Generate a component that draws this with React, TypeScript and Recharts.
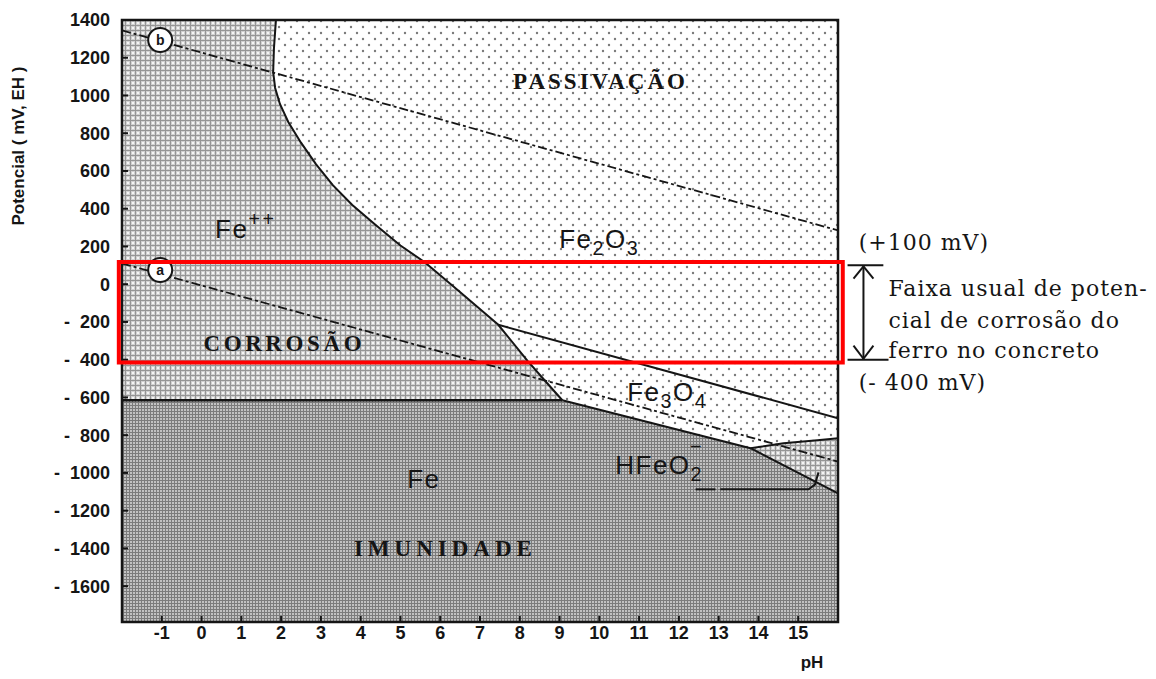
import React from 'react';
import {
  ComposedChart,
  Area,
  Line,
  XAxis,
  YAxis,
  ReferenceArea,
  ReferenceLine,
  ReferenceDot,
} from 'recharts';

// ---------- axes ----------
const phTicks = [-1, 0, 1, 2, 3, 4, 5, 6, 7, 8, 9, 10, 11, 12, 13, 14, 15];
const potentialTicks = [1400, 1200, 1000, 800, 600, 400, 200, 0, -200, -400, -600, -800, -1000, -1200, -1400, -1600];
const PH_MIN = -2;
const PH_MAX = 16;
const MV_MIN = -1790;
const MV_MAX = 1400;

// ---------- boundaries (pH, mV) ----------
// Fe++ / Fe2O3 curve continuing as Fe++ / Fe3O4
const feIonOxideBoundary = [
  { ph: 1.87, mv: 1400 },
  { ph: 1.82, mv: 1250 },
  { ph: 1.8, mv: 1125 },
  { ph: 1.85, mv: 1040 },
  { ph: 1.97, mv: 955 },
  { ph: 2.18, mv: 860 },
  { ph: 2.5, mv: 750 },
  { ph: 2.88, mv: 635 },
  { ph: 3.3, mv: 525 },
  { ph: 3.79, mv: 420 },
  { ph: 4.37, mv: 315 },
  { ph: 5.0, mv: 205 },
  { ph: 5.62, mv: 115 },
  { ph: 6.43, mv: -30 },
  { ph: 7.46, mv: -215 },
  { ph: 8.19, mv: -405 },
  { ph: 8.69, mv: -525 },
  { ph: 9.07, mv: -615 },
];
const feIonFeBoundary = [
  { ph: -2, mv: -615 },
  { ph: 9.07, mv: -615 },
];
const fe2o3Fe3o4Boundary = [
  { ph: 7.46, mv: -215 },
  { ph: 16, mv: -710 },
];
const fe3o4FeBoundary = [
  { ph: 9.07, mv: -615 },
  { ph: 13.8, mv: -869 },
  { ph: 16, mv: -1108 },
];
const hfeo2Boundary = [
  { ph: 13.8, mv: -869 },
  { ph: 14.63, mv: -843 },
  { ph: 15.48, mv: -827 },
  { ph: 16, mv: -816 },
];
const hfeo2Lower = [-869, -959, -1051, -1108];
const lineA = [
  { ph: -2, mv: 110 },
  { ph: 16, mv: -940 },
];
const lineB = [
  { ph: -2, mv: 1345 },
  { ph: 16, mv: 285 },
];
const pointerUnderline = [
  { ph: 12.42, mv: -1087 },
  { ph: 12.92, mv: -1087 },
];
const pointerLine = [
  { ph: 13.04, mv: -1087 },
  { ph: 15.26, mv: -1087 },
  { ph: 15.42, mv: -1062 },
  { ph: 15.51, mv: -997 },
];

// usual corrosion potential range of steel in concrete (red box)
const redBox = { ph1: -2.08, ph2: 16.12, mv1: -415, mv2: 118 };

// bracket on the right (+100 / -400 mV)
const bracketSegments = [
  [{ ph: 16.24, mv: 100 }, { ph: 17.14, mv: 100 }],
  [{ ph: 16.24, mv: -400 }, { ph: 17.27, mv: -400 }],
  [{ ph: 16.64, mv: 95 }, { ph: 16.64, mv: -395 }],
  [{ ph: 16.39, mv: 30 }, { ph: 16.64, mv: 95 }],
  [{ ph: 16.89, mv: 30 }, { ph: 16.64, mv: 95 }],
  [{ ph: 16.39, mv: -325 }, { ph: 16.64, mv: -395 }],
  [{ ph: 16.89, mv: -325 }, { ph: 16.64, mv: -395 }],
];

const circleMarks = [
  { ph: -1.04, mv: 1294, t: 'b' },
  { ph: -1.04, mv: 75, t: 'a' },
];

type Part = { t: string; s?: 'sub' | 'sup' | 'over' };
const regionLabels: { ph: number; mv: number; kind: string; parts: Part[] }[] = [
  { ph: 10.03, mv: 1077, kind: 'word1', parts: [{ t: 'PASSIVAÇÃO' }] },
  { ph: 2.08, mv: -313, kind: 'word2', parts: [{ t: 'CORROSÃO' }] },
  { ph: 6.13, mv: -1400, kind: 'word3', parts: [{ t: 'IMUNIDADE' }] },
  { ph: 0.34, mv: 292, kind: 'formula', parts: [{ t: 'Fe' }, { t: '++', s: 'sup' }] },
  { ph: 8.99, mv: 244, kind: 'formula', parts: [{ t: 'Fe' }, { t: '2', s: 'sub' }, { t: 'O' }, { t: '3', s: 'sub' }] },
  { ph: 10.7, mv: -567, kind: 'formula', parts: [{ t: 'Fe' }, { t: '3', s: 'sub' }, { t: 'O' }, { t: '4', s: 'sub' }] },
  { ph: 10.4, mv: -954, kind: 'formula', parts: [{ t: 'HFeO' }, { t: '2', s: 'sub' }, { t: '\u2212', s: 'over' }] },
  { ph: 5.17, mv: -1028, kind: 'formula', parts: [{ t: 'Fe' }] },
];

const noteLabels = [
  { ph: 16.52, mv: 223, t: '(+100 mV)' },
  { ph: 17.27, mv: -21, t: 'Faixa usual de poten-' },
  { ph: 17.27, mv: -191, t: 'cial de corrosão do' },
  { ph: 17.27, mv: -350, t: 'ferro no concreto' },
  { ph: 16.52, mv: -519, t: '(- 400 mV)' },
];

// ---------- region polygons built from the boundaries ----------
const feIonRegion = [
  { ph: PH_MIN, range: [MV_MIN, MV_MAX] },
  { ph: PH_MAX, range: [MV_MIN, MV_MAX] },
];
const passivationRegion = [...feIonOxideBoundary, ...fe3o4FeBoundary.slice(1)].map((p) => ({
  ph: p.ph,
  range: [p.mv, MV_MAX],
}));
const feRegion = [...feIonFeBoundary, ...fe3o4FeBoundary.slice(1)].map((p) => ({
  ph: p.ph,
  range: [MV_MIN, p.mv],
}));
const hfeo2Region = hfeo2Boundary.map((p, i) => ({ ph: p.ph, range: [hfeo2Lower[i], p.mv] }));

// ---------- styles ----------
const SANS = "'Liberation Sans', Arial, Helvetica, sans-serif";
const SERIF = "'DejaVu Serif', 'Liberation Serif', serif";
const WORD_SERIF = "'Liberation Serif', 'Times New Roman', serif";
const INK = '#151515';

const wordStyle: Record<string, { size: number; spacing: number }> = {
  word1: { size: 23, spacing: 3 },
  word2: { size: 23, spacing: 3.6 },
  word3: { size: 23, spacing: 5 },
};

const OFFS: Record<string, number> = { base: 0, sub: 0.3, sup: -0.46, over: -0.8 };

function RichLabel(props: any) {
  const { cx, cy, def } = props;
  if (cx == null || cy == null) return null;
  if (def.kind !== 'formula') {
    const st = wordStyle[def.kind];
    return (
      <text
        x={cx}
        y={cy + st.size * 0.33}
        textAnchor="middle"
        fontFamily={WORD_SERIF}
        fontWeight={700}
        fontSize={st.size}
        letterSpacing={st.spacing}
        fill={INK}
      >
        {def.parts[0].t}
      </text>
    );
  }
  const fs = 26;
  let cur = 0;
  return (
    <text x={cx} y={cy + fs * 0.36} textAnchor="start" fontFamily={SANS} fontSize={fs} letterSpacing={1.5} fill={INK}>
      {def.parts.map((p: Part, i: number) => {
        const k = p.s ?? 'base';
        const target = OFFS[k] * fs;
        const dy = target - cur;
        cur = target;
        const size = k === 'base' ? fs : fs * 0.76;
        const dx = k === 'over' ? -fs * 0.5 : 0;
        return (
          <tspan key={i} dy={dy} dx={dx} fontSize={size} letterSpacing={k === 'sup' ? 2.5 : 1.5}>
            {p.t}
          </tspan>
        );
      })}
    </text>
  );
}

function NoteLabel(props: any) {
  const { cx, cy, t } = props;
  if (cx == null || cy == null) return null;
  return (
    <text x={cx} y={cy + 22 * 0.36} textAnchor="start" fontFamily={SERIF} fontSize={22} letterSpacing={1} fill={INK}>
      {t}
    </text>
  );
}

function CircleMark(props: any) {
  const { cx, cy, t } = props;
  if (cx == null || cy == null) return null;
  return (
    <g>
      <circle cx={cx} cy={cy} r={12} fill="#ffffff" stroke={INK} strokeWidth={2} />
      <text x={cx} y={cy + 5} textAnchor="middle" fontFamily={SANS} fontWeight={700} fontSize={14} fill={INK}>
        {t}
      </text>
    </g>
  );
}

function YTitle() {
  const cx = 18;
  const cy = 146;
  return (
    <text
      x={cx}
      y={cy}
      transform={`rotate(-90, ${cx}, ${cy})`}
      textAnchor="middle"
      dominantBaseline="central"
      fontFamily={SANS}
      fontWeight={700}
      fontSize={17}
      fill={INK}
    >
      Potencial ( mV, EH )
    </text>
  );
}

function XTitle() {
  return (
    <text x={812} y={668} textAnchor="middle" fontFamily={SANS} fontWeight={700} fontSize={17} fill={INK}>
      pH
    </text>
  );
}

const fmtPotential = (v: number) => (v < 0 ? `-\u00A0\u00A0${Math.abs(v)}` : String(v));

const tickStyle = { fill: INK, fontSize: 18, fontWeight: 700, fontFamily: SANS };

export default function App() {
  return (
    <div style={{ position: 'absolute', left: 0, top: 0, width: 1156, height: 679, background: '#ffffff' }}>
      <ComposedChart width={1156} height={679} margin={{ top: 20, right: 318, bottom: 27, left: 62 }}>
        <defs>
          <pattern id="feIonPat" width="5" height="5" patternUnits="userSpaceOnUse">
            <rect width="5" height="5" fill="#d0d0d0" />
            <rect width="5" height="1" fill="#959595" />
            <rect width="1" height="5" fill="#959595" />
            <rect x="2" y="2" width="2" height="2" fill="#f4f4f4" />
          </pattern>
          <pattern id="fePat" width="3" height="3" patternUnits="userSpaceOnUse">
            <rect width="3" height="3" fill="#c2c2c2" />
            <rect width="3" height="1" fill="#7c7c7c" />
            <rect width="1" height="3" fill="#7c7c7c" />
          </pattern>
          <pattern id="dotPat" width="12" height="12" patternUnits="userSpaceOnUse">
            <rect width="12" height="12" fill="#ffffff" />
            <circle cx="3" cy="3" r="1.2" fill="#7a7a7a" />
            <circle cx="9" cy="9" r="1.2" fill="#7a7a7a" />
          </pattern>
        </defs>

        <XAxis
          type="number"
          dataKey="ph"
          domain={[PH_MIN, PH_MAX]}
          ticks={phTicks}
          allowDataOverflow
          interval={0}
          height={30}
          tickSize={-6}
          tickMargin={10}
          axisLine={{ stroke: INK, strokeWidth: 2 }}
          tickLine={{ stroke: INK, strokeWidth: 2 }}
          tick={tickStyle}
          label={{ content: () => <XTitle /> }}
        />
        <YAxis
          type="number"
          domain={[MV_MIN, MV_MAX]}
          ticks={potentialTicks}
          allowDataOverflow
          interval={0}
          width={60}
          tickSize={-6}
          tickMargin={18}
          tickFormatter={fmtPotential}
          axisLine={{ stroke: INK, strokeWidth: 2 }}
          tickLine={{ stroke: INK, strokeWidth: 2 }}
          tick={tickStyle}
          label={{ content: () => <YTitle /> }}
        />

        <Area data={feIonRegion} dataKey="range" type="linear" stroke="none" fill="url(#feIonPat)" fillOpacity={1} dot={false} activeDot={false} isAnimationActive={false} />
        <Area data={passivationRegion} dataKey="range" type="linear" stroke="none" fill="url(#dotPat)" fillOpacity={1} dot={false} activeDot={false} isAnimationActive={false} />
        <Area data={feRegion} dataKey="range" type="linear" stroke="none" fill="url(#fePat)" fillOpacity={1} dot={false} activeDot={false} isAnimationActive={false} />
        <Area data={hfeo2Region} dataKey="range" type="linear" stroke="none" fill="url(#feIonPat)" fillOpacity={1} dot={false} activeDot={false} isAnimationActive={false} />

        <Line data={lineB} dataKey="mv" type="linear" stroke={INK} strokeWidth={1.8} strokeDasharray="9 3 3 3" dot={false} activeDot={false} isAnimationActive={false} />
        <Line data={lineA} dataKey="mv" type="linear" stroke={INK} strokeWidth={1.8} strokeDasharray="9 3 3 3" dot={false} activeDot={false} isAnimationActive={false} />
        <Line data={feIonOxideBoundary} dataKey="mv" type="linear" stroke={INK} strokeWidth={2} dot={false} activeDot={false} isAnimationActive={false} />
        <Line data={feIonFeBoundary} dataKey="mv" type="linear" stroke={INK} strokeWidth={2.5} dot={false} activeDot={false} isAnimationActive={false} />
        <Line data={fe2o3Fe3o4Boundary} dataKey="mv" type="linear" stroke={INK} strokeWidth={2} dot={false} activeDot={false} isAnimationActive={false} />
        <Line data={fe3o4FeBoundary} dataKey="mv" type="linear" stroke={INK} strokeWidth={2} dot={false} activeDot={false} isAnimationActive={false} />
        <Line data={hfeo2Boundary} dataKey="mv" type="linear" stroke={INK} strokeWidth={2} dot={false} activeDot={false} isAnimationActive={false} />
        <Line data={pointerUnderline} dataKey="mv" type="linear" stroke={INK} strokeWidth={2} dot={false} activeDot={false} isAnimationActive={false} />
        <Line data={pointerLine} dataKey="mv" type="linear" stroke={INK} strokeWidth={2} dot={false} activeDot={false} isAnimationActive={false} />

        <ReferenceArea
          x1={PH_MIN}
          x2={PH_MAX}
          y1={MV_MIN}
          y2={MV_MAX}
          fill="none"
          fillOpacity={0}
          stroke={INK}
          strokeWidth={2.5}
          ifOverflow="visible"
          zIndex={900}
        />

        {circleMarks.map((c) => (
          <ReferenceDot
            key={c.t}
            x={c.ph}
            y={c.mv}
            r={12}
            ifOverflow="visible"
            zIndex={950}
            shape={(p: any) => <CircleMark cx={p.cx} cy={p.cy} t={c.t} />}
          />
        ))}

        {regionLabels.map((d, i) => (
          <ReferenceDot
            key={`lab${i}`}
            x={d.ph}
            y={d.mv}
            r={1}
            ifOverflow="visible"
            zIndex={960}
            shape={(p: any) => <RichLabel cx={p.cx} cy={p.cy} def={d} />}
          />
        ))}

        <ReferenceArea
          x1={redBox.ph1}
          x2={redBox.ph2}
          y1={redBox.mv1}
          y2={redBox.mv2}
          fill="none"
          fillOpacity={0}
          stroke="#ff0000"
          strokeWidth={4}
          ifOverflow="visible"
          zIndex={1000}
        />

        {bracketSegments.map((s, i) => (
          <ReferenceLine
            key={`br${i}`}
            segment={[{ x: s[0].ph, y: s[0].mv }, { x: s[1].ph, y: s[1].mv }]}
            stroke={INK}
            strokeWidth={2}
            ifOverflow="visible"
            zIndex={1000}
          />
        ))}

        {noteLabels.map((n, i) => (
          <ReferenceDot
            key={`note${i}`}
            x={n.ph}
            y={n.mv}
            r={1}
            ifOverflow="visible"
            zIndex={1000}
            shape={(p: any) => <NoteLabel cx={p.cx} cy={p.cy} t={n.t} />}
          />
        ))}
      </ComposedChart>
    </div>
  );
}
